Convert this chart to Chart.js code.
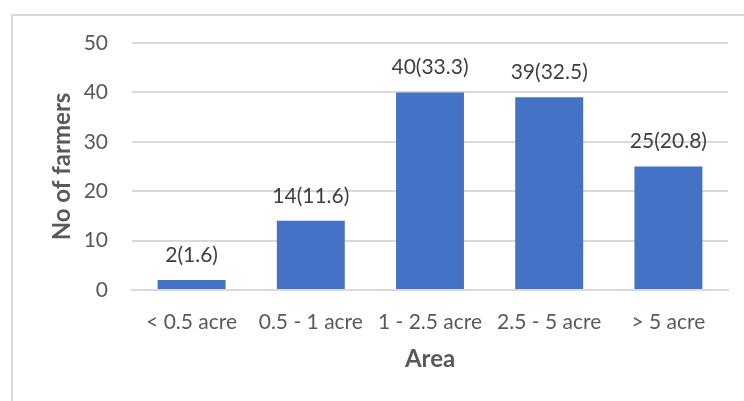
<!DOCTYPE html>
<html>
<head>
<meta charset="utf-8">
<script src="https://cdn.jsdelivr.net/npm/chart.js@4/dist/chart.umd.min.js"></script>
<style>
  html, body { margin: 0; padding: 0; background: #fff; overflow: hidden; }
  #wrap { position: relative; width: 744px; height: 401px; }
  #frame { position: absolute; left: 11px; top: 14px; width: 760px; height: 420px;
           border: 2px solid #d9d9d9; box-sizing: border-box; }
  canvas { position: absolute; left: 0; top: 0; }
</style>
</head>
<body>
<div id="wrap">
  <div id="frame"></div>
  <canvas id="c" width="744" height="401"></canvas>
</div>
<script>
// Land holding size classes and number of farmers (percent in brackets)
const categories = ['< 0.5 acre', '0.5 - 1 acre', '1 - 2.5 acre', '2.5 - 5 acre', '> 5 acre'];
const farmers = [2, 14, 40, 39, 25];
const percents = [1.6, 11.6, 33.3, 32.5, 20.8];
const yTicks = [0, 10, 20, 30, 40, 50];

const FONT = 'Lato, "Open Sans", sans-serif';
const SIZE = 21;
const TITLE_SIZE = 24;

// Writes "count(percent)" above each bar
const valueLabels = {
  id: 'valueLabels',
  afterDatasetsDraw(chart) {
    const ctx = chart.ctx;
    const meta = chart.getDatasetMeta(0);
    ctx.save();
    ctx.font = SIZE + 'px ' + FONT;
    ctx.fillStyle = '#404040';
    ctx.textAlign = 'center';
    ctx.textBaseline = 'middle';
    meta.data.forEach((bar, i) => {
      ctx.fillText(farmers[i] + '(' + percents[i] + ')', bar.x, bar.y - 25);
    });
    ctx.restore();
  }
};

new Chart(document.getElementById('c'), {
  type: 'bar',
  data: {
    labels: categories,
    datasets: [{
      data: farmers,
      backgroundColor: '#4472C4',
      borderWidth: 0,
      barPercentage: 0.57,
      categoryPercentage: 1.0
    }]
  },
  options: {
    responsive: false,
    animation: false,
    layout: { padding: { top: 43, right: 16, left: 48, bottom: 27 } },
    plugins: { legend: { display: false }, tooltip: { enabled: false } },
    scales: {
      x: {
        afterFit(scale) { scale.height = 84; },
        grid: { display: false, drawTicks: false },
        border: { color: '#d9d9d9', width: 2 },
        ticks: { color: '#595959', font: { family: FONT, size: SIZE }, padding: 20 },
        title: { display: true, text: 'Area', color: '#595959',
                 font: { family: FONT, size: TITLE_SIZE, weight: 'bold' }, padding: 0 }
      },
      y: {
        min: 0, max: 50,
        afterBuildTicks(scale) { scale.ticks = yTicks.map(v => ({ value: v })); },
        afterFit(scale) { scale.width = 84; },
        grid: { color: '#d9d9d9', lineWidth: 2, drawTicks: false },
        border: { display: false },
        ticks: { color: '#595959', font: { family: FONT, size: SIZE }, padding: 24 },
        title: { display: true, text: 'No of farmers', color: '#595959',
                 font: { family: FONT, size: TITLE_SIZE, weight: 'bold' }, padding: 0 }
      }
    }
  },
  plugins: [valueLabels]
});
</script>
</body>
</html>
